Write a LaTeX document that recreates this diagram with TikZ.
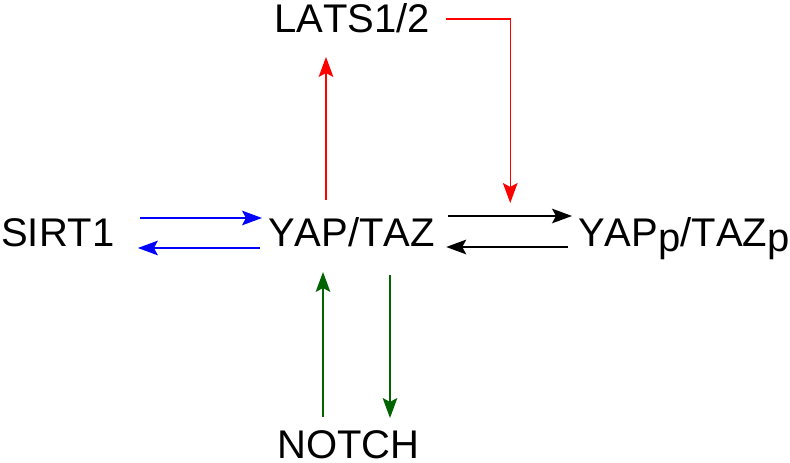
\documentclass[tikz,border=0pt]{standalone}
\usepackage{fontspec}
\setmainfont{Liberation Sans}[Kerning=Off]
\usetikzlibrary{arrows.meta}
\definecolor{darkgreen}{RGB}{0,100,0}
\newcommand{\subp}{\raisebox{-3.5pt}{p}}
\begin{document}
\begin{tikzpicture}[x=0.75pt,y=0.75pt,
    lbl/.style={anchor=base west, inner sep=0pt, font=\fontsize{30}{36}\selectfont},
    arr/.style={line width=1.1pt, -{Stealth[length=15pt, width=11pt, inset=3pt]}}]

% 画布大小
\useasboundingbox (0,0) rectangle (790,463);

% 蛋白名称
\node[lbl] (sirt)  at (1,216)   {SIRT1};
\node[lbl] (yap)   at (268,216) {YAP/TAZ};
\node[lbl] (yapp)  at (578,216) {YAP\subp/TAZ\subp};
\node[lbl] (lats)  at (274,430) {LATS1/2};
\node[lbl] (notch) at (277,4)   {NOTCH};

% 磷酸化箭头的中点
\coordinate (phos) at ([shift={(75,31)}]yap.base east);

% SIRT1 与 YAP/TAZ 之间的蓝色箭头
\draw[arr, blue] ([shift={(25,29)}]sirt.base east) -- ([shift={(-6,29)}]yap.base west);
\draw[arr, blue] ([shift={(-8,-1)}]yap.base west) -- ([shift={(23,-1)}]sirt.base east);

% YAP/TAZ 与 YAPp/TAZp 之间的黑色箭头
\draw[arr, black] ([shift={(13,31)}]yap.base east) -- ([shift={(-6,31)}]yapp.base west);
\draw[arr, black] ([shift={(-10,0)}]yapp.base west) -- ([shift={(11,0)}]yap.base east);

% LATS1/2 的红色箭头
\draw[arr, red] ([shift={(58,47)}]yap.base west) -- ([shift={(52,-24)}]lats.base west);
\draw[arr, red] ([shift={(16,14)}]lats.base east) -| ([shift={(0,13)}]phos);

% NOTCH 的绿色箭头
\draw[arr, darkgreen] ([shift={(46,42)}]notch.base west) -- ([shift={(55,-25)}]yap.base west);
\draw[arr, darkgreen] ([shift={(122,-28)}]yap.base west) -- ([shift={(113,41)}]notch.base west);

\end{tikzpicture}
\end{document}
